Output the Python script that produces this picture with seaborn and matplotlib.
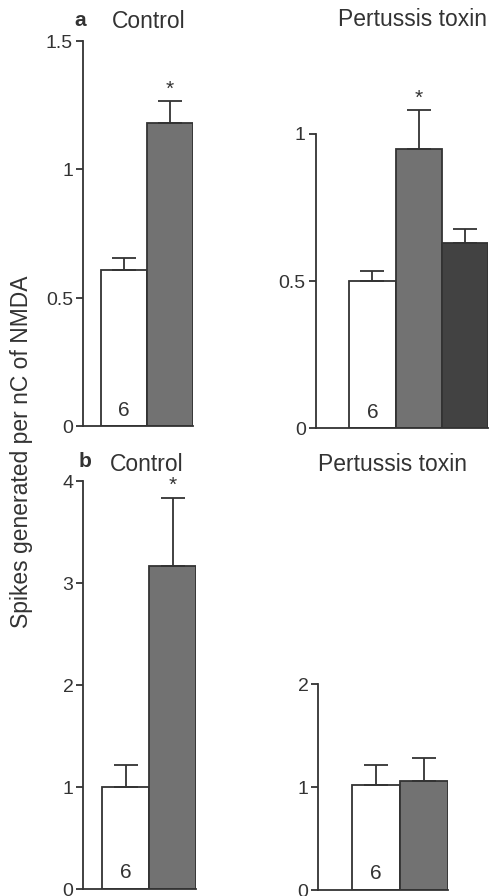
import numpy as np
import pandas as pd
import matplotlib
matplotlib.use('Agg')
import matplotlib.pyplot as plt
import seaborn as sns

# values (mean, and top of the error bar)
groups_control = ['NMDA', 'NMDA + agonist']
groups_ptx = ['NMDA', 'NMDA + agonist', 'NMDA + agonist (2)']

a_control_mean = [0.61, 1.18]
a_control_sem = [0.045, 0.085]
a_ptx_mean = [0.50, 0.95, 0.63]
a_ptx_sem = [0.035, 0.13, 0.047]

b_control_mean = [1.00, 3.17]
b_control_sem = [0.22, 0.67]
b_ptx_mean = [1.02, 1.06]
b_ptx_sem = [0.20, 0.22]

a_control_stars = [False, True]
a_ptx_stars = [False, True, False]
b_control_stars = [False, True]
b_ptx_stars = [False, False]

n_cells = '6'
ylabel = 'Spikes generated per nC of NMDA'

sns.set_theme(style='ticks')
plt.rcParams['font.family'] = ['Liberation Sans', 'DejaVu Sans']

ink = '#333333'
bar_colors = ['#ffffff', '#727272', '#424242']
lw = 1.3

W, H = 496, 896
fig = plt.figure(figsize=(W / 100, H / 100), dpi=100)


def px_axes(left, zero_y, width, height):
    # positions given in pixels of the final image (y measured from top)
    return fig.add_axes([left / W, (H - zero_y) / H, width / W, height / H])


def draw_panel(ax, names, means, sems, stars, xlim, ylim, yticks, ytick_labels, axis_top):
    df = pd.DataFrame({'group': names, 'value': means})
    sns.barplot(data=df, x='group', y='value', hue='group', order=names,
                palette=bar_colors[:len(names)], legend=False, width=1.0,
                edgecolor=ink, linewidth=lw, ax=ax, errorbar=None)
    x = np.arange(len(names))
    ax.errorbar(x, means, yerr=[np.zeros(len(means)), sems], fmt='none',
                ecolor=ink, elinewidth=lw, capsize=8.5, capthick=lw, zorder=1)
    for xi, m, s, st in zip(x, means, sems, stars):
        if st:
            ax.annotate('*', (xi, m + s), xytext=(0, 2), textcoords='offset points',
                        ha='center', va='bottom', fontsize=15, color=ink)
    ax.annotate(n_cells, (0, 0), xytext=(0, 5), textcoords='offset points',
                ha='center', va='bottom', fontsize=15, color=ink)
    ax.set_xlim(*xlim)
    ax.set_ylim(*ylim)
    ax.set_yticks(yticks)
    ax.set_yticklabels(ytick_labels)
    ax.set_xticks([])
    ax.set_xlabel('')
    ax.set_ylabel('')
    sns.despine(ax=ax)
    ax.spines['left'].set_bounds(0, axis_top)
    ax.spines['bottom'].set_bounds(xlim[0], len(names) - 0.5)
    for sp in ('left', 'bottom'):
        ax.spines[sp].set_color(ink)
        ax.spines[sp].set_linewidth(lw)
    ax.tick_params(axis='y', direction='out', length=5, width=lw, color=ink,
                   labelcolor=ink, labelsize=14, pad=2)
    ax.patch.set_alpha(0)


# a, control
ax1 = px_axes(82.7, 426.5, 110, 385.5)
draw_panel(ax1, groups_control, a_control_mean, a_control_sem, a_control_stars,
           (-0.89, 1.5), (0, 1.5), [0, 0.5, 1, 1.5], ['0', '0.5', '1', '1.5'], 1.5)

# a, pertussis toxin
ax2 = px_axes(315.5, 428.5, 172.8, 324)
draw_panel(ax2, groups_ptx, a_ptx_mean, a_ptx_sem, a_ptx_stars,
           (-1.23, 2.5), (0, 1.1), [0, 0.5, 1], ['0', '0.5', '1'], 1.0)

# b, control
ax3 = px_axes(83.3, 889.3, 112.8, 407.8)
draw_panel(ax3, groups_control, b_control_mean, b_control_sem, b_control_stars,
           (-0.9, 1.5), (0, 4), [0, 1, 2, 3, 4], ['0', '1', '2', '3', '4'], 4)

# b, pertussis toxin
ax4 = px_axes(318.3, 890, 129.6, 205.7)
draw_panel(ax4, groups_control, b_ptx_mean, b_ptx_sem, b_ptx_stars,
           (-1.2, 1.5), (0, 2), [0, 1, 2], ['0', '1', '2'], 2)


def px_text(x, y, s, **kw):
    fig.text(x / W, 1 - y / H, s, ha='center', va='center', color=ink, **kw)


px_text(80, 21, 'a', fontsize=15, fontweight='bold')
px_text(149, 21, 'Control', fontsize=16.5)
px_text(413, 19, 'Pertussis toxin', fontsize=16.5)
px_text(85, 461, 'b', fontsize=15, fontweight='bold')
px_text(146.5, 464, 'Control', fontsize=16.5)
px_text(392, 464, 'Pertussis toxin', fontsize=16.5)
px_text(22, 452, ylabel, fontsize=16.5, rotation=90)

fig.savefig('out.png', dpi=100)
